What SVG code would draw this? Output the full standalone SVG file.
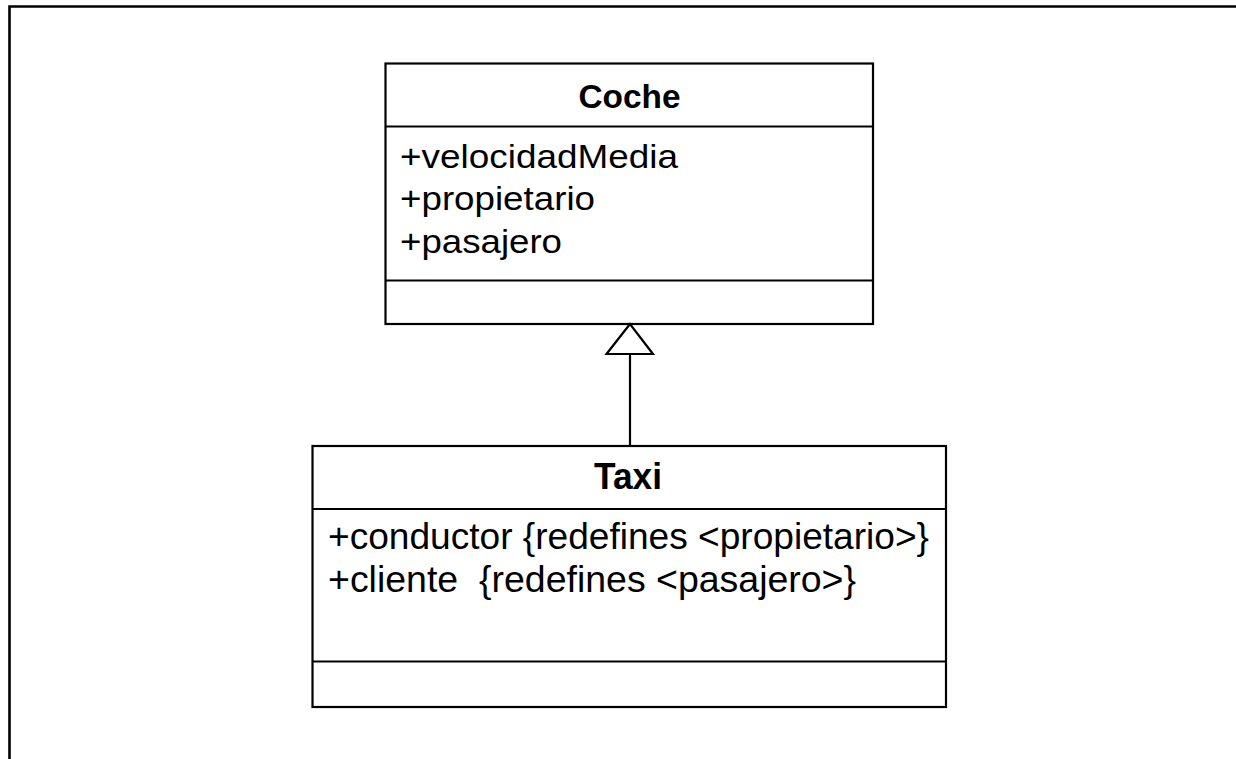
<svg xmlns="http://www.w3.org/2000/svg" width="1236" height="759" viewBox="0 0 1236 759">
<defs>
<style>
.box{fill:#fff;stroke:#000;stroke-width:2.2}
.sep{stroke:#000;stroke-width:2}
.title{font-family:"Liberation Sans",Arial,sans-serif;font-weight:bold;fill:#000}
.attr{font-family:"Liberation Sans",Arial,sans-serif;fill:#000}
.edge{stroke:#000;stroke-width:2.2;fill:none}
.head{fill:#fff;stroke:#000;stroke-width:2.2;stroke-linejoin:miter}
</style>
</defs>
<rect width="1236" height="759" fill="#fff"/>
<path d="M9.5 759 V6.5 H1236" fill="none" stroke="#000" stroke-width="2.6"/>
<g id="node-coche">
<rect class="box" x="385.5" y="63.5" width="487.5" height="260.5"/>
<line class="sep" x1="385.5" y1="126.5" x2="873" y2="126.5"/>
<line class="sep" x1="385.5" y1="280.5" x2="873" y2="280.5"/>
<text class="title" x="578.5" y="108" font-size="34" textLength="102" lengthAdjust="spacingAndGlyphs">Coche</text>
<text class="attr" x="400" y="168" font-size="33" textLength="278" lengthAdjust="spacingAndGlyphs">+velocidadMedia</text>
<text class="attr" x="400" y="210" font-size="33" textLength="195" lengthAdjust="spacingAndGlyphs">+propietario</text>
<text class="attr" x="400" y="253" font-size="33" textLength="162" lengthAdjust="spacingAndGlyphs">+pasajero</text>
</g>
<g id="node-taxi">
<rect class="box" x="312.5" y="446" width="633.5" height="261"/>
<line class="sep" x1="312.5" y1="509" x2="946" y2="509"/>
<line class="sep" x1="312.5" y1="661.5" x2="946" y2="661.5"/>
<text class="title" x="594" y="489" font-size="36" textLength="68" lengthAdjust="spacingAndGlyphs">Taxi</text>
<text class="attr" x="328" y="549" font-size="36" textLength="601" lengthAdjust="spacingAndGlyphs">+conductor {redefines &lt;propietario&gt;}</text>
<text class="attr" x="328" y="592" font-size="36" textLength="528" lengthAdjust="spacingAndGlyphs" xml:space="preserve">+cliente  {redefines &lt;pasajero&gt;}</text>
</g>
<g id="connectors">
<line class="edge" x1="630" y1="354" x2="630" y2="446"/>
<polygon class="head" points="630,324 606.5,354 653,354"/>
</g>
</svg>
